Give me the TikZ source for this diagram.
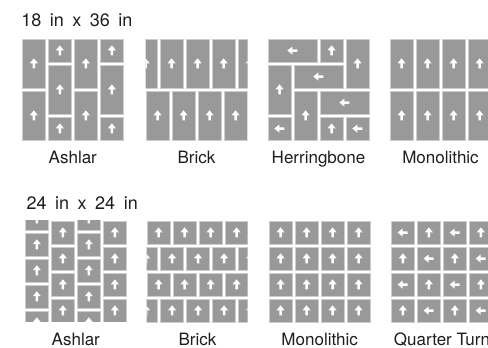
\documentclass[tikz,border=0pt]{standalone}
\usepackage{fontspec}
\setmainfont{TeX Gyre Heros}
\newfontfamily\titlefont[WordSpace=1.7]{TeX Gyre Heros}
\definecolor{tilegray}{RGB}{153,153,153}
\definecolor{tileedge}{RGB}{205,205,205}
\definecolor{txt}{RGB}{30,30,30}
\tikzset{
  tilef/.style={fill=tilegray,draw=tileedge,line width=0.6pt},
  arw/.pic={\fill[white] (-1.3,4.8) -- (-1.3,-0.3) -- (-4,-0.3) -- (0,-5.2) -- (4,-0.3) -- (1.3,-0.3) -- (1.3,4.8) -- cycle;},
  lbl/.style={anchor=base,inner sep=0pt,text=txt,font=\fontsize{17}{20}\selectfont},
  ttl/.style={anchor=base west,inner sep=0pt,text=txt,font=\titlefont\fontsize{18}{20}\selectfont}
}
\newcommand\T[5]{%
  \filldraw[tilef] ({26*(#1)},{26*(#2)}) rectangle ({26*(#1+#3)-2.9},{26*(#2+#4)-2.9});
  \pic[rotate=#5] at ({26*(#1+#3/2)-1.45},{26*(#2+#4/2)-1.45}) {arw};}
\begin{document}
\begin{tikzpicture}[x=1pt,y=-1pt]
\clip (0,0) rectangle (488,348);
\fill[white] (0,0) rectangle (488,348);
% titles
\node[ttl] (t1) at (21.2,26.7) {18 in x 36 in};
\node[ttl] (t2) at (26.5,209.3) {24 in x 24 in};
% --- 18x36 Ashlar
\begin{scope}[shift={(22.3,39)}]
  \foreach \c in {0,2} {\T{\c}{0}{1}{2}{0}\T{\c}{2}{1}{2}{0}}
  \foreach \c in {1,3} {\T{\c}{0}{1}{1}{0}\T{\c}{1}{1}{2}{0}\T{\c}{3}{1}{1}{0}}
\end{scope}
% --- 18x36 Brick
\begin{scope}[shift={(146,39)}]
  \clip (-0.4,-0.4) rectangle (101.5,101.5);
  \foreach \c in {-0.46,0.54,1.54,2.54,3.54} {\T{\c}{0}{1}{2}{0}}
  \foreach \c in {0,1,2,3} {\T{\c}{2}{1}{2}{0}}
\end{scope}
% --- Herringbone
\begin{scope}[shift={(268,39)}]
  \T{0}{0}{2}{1}{90}
  \T{2}{0}{1}{1}{0}
  \T{3}{0}{1}{2}{0}
  \T{0}{1}{1}{2}{0}
  \T{1}{1}{2}{1}{90}
  \T{1}{2}{1}{2}{0}
  \T{2}{2}{2}{1}{90}
  \T{0}{3}{1}{1}{90}
  \T{2}{3}{1}{1}{0}
  \T{3}{3}{1}{1}{90}
\end{scope}
% --- 18x36 Monolithic
\begin{scope}[shift={(390,39)}]
  \foreach \c in {0,1,2,3} {\T{\c}{0}{1}{2}{0}\T{\c}{2}{1}{2}{0}}
\end{scope}
% --- 24x24 Ashlar
\begin{scope}[shift={(25.3,221)}]
  \clip (-0.4,-0.4) rectangle (101.5,100.4);
  \foreach \c in {0,2} {\foreach \r in {-0.54,0.46,1.46,2.46,3.46} {\T{\c}{\r}{1}{1}{0}}}
  \foreach \c in {1,3} {\foreach \r in {0,1,2,3} {\T{\c}{\r}{1}{1}{0}}}
\end{scope}
% --- 24x24 Brick
\begin{scope}[shift={(147,221)}]
  \clip (-0.4,-0.4) rectangle (100.6,101.5);
  \foreach \r in {0,2} {\foreach \c in {0,1,2,3} {\T{\c}{\r}{1}{1}{0}}}
  \foreach \r in {1,3} {\foreach \c in {-0.48,0.52,1.52,2.52,3.52} {\T{\c}{\r}{1}{1}{0}}}
\end{scope}
% --- 24x24 Monolithic
\begin{scope}[shift={(269,221)}]
  \foreach \r in {0,1,2,3} {\foreach \c in {0,1,2,3} {\T{\c}{\r}{1}{1}{0}}}
\end{scope}
% --- Quarter Turn
\begin{scope}[shift={(391.3,221)}]
  \foreach \r in {0,1,2,3} {\foreach \c in {0,1,2,3} {
    \pgfmathtruncatemacro\rot{mod(\c+\r,2)==0 ? 90 : 0}
    \T{\c}{\r}{1}{1}{\rot}}}
\end{scope}
% labels
\node[lbl] (l1) at (72.8,163) {Ashlar};
\node[lbl] (l2) at (196.5,163) {Brick};
\node[lbl] (l3) at (318.5,163) {Herringbone};
\node[lbl] (l4) at (440.5,163) {Monolithic};
\node[lbl] (l5) at (75.8,345) {Ashlar};
\node[lbl] (l6) at (197.5,345) {Brick};
\node[lbl] (l7) at (319.7,345) {Monolithic};
\node[lbl] (l8) at (442,345) {Quarter Turn};
\end{tikzpicture}
\end{document}
